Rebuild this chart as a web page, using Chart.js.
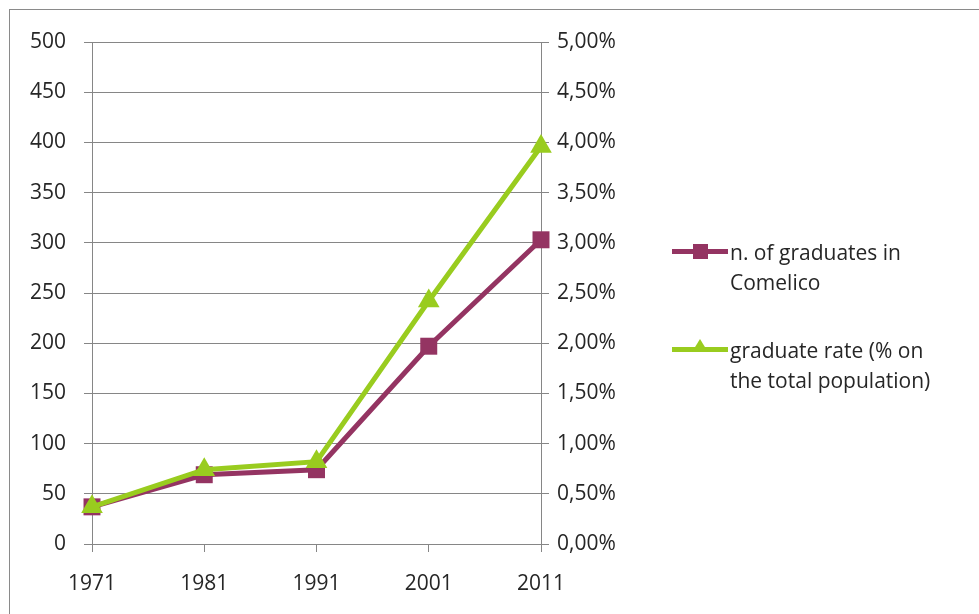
<!DOCTYPE html>
<html lang="en">
<head>
  <meta charset="UTF-8">
  <title>Graduates in Comelico</title>
  <script src="https://cdn.jsdelivr.net/npm/chart.js"></script>
  <style>
    body { margin: 0; background: #fff; }
    #wrap { position: relative; width: 979px; height: 614px; overflow: hidden; font-family: "Open Sans", sans-serif; }
    #frame { position: absolute; left: 9px; top: 9px; width: 1000px; height: 700px; border-top: 1px solid #8a8a8a; border-left: 1px solid #8a8a8a; }
    #gradChart { position: absolute; left: 0; top: 0; }
    .legend { position: absolute; left: 672px; font-size: 21px; line-height: 30px; color: #262626; }
    .legend .mark { position: absolute; left: 0; top: 12px; width: 56px; height: 5px; }
    .legend .txt { position: absolute; left: 58px; top: 0; white-space: nowrap; }
    .sq { position: absolute; left: 21px; top: -5px; width: 15px; height: 15px; }
    .tri { position: absolute; left: 20px; top: -8px; width: 0; height: 0; border-left: 8px solid transparent; border-right: 8px solid transparent; }
  </style>
</head>
<body>
  <div id="wrap">
    <div id="frame"></div>
    <canvas id="gradChart" width="979" height="614"></canvas>
    <!-- legend in html so the wrapped labels look like the original -->
    <div class="legend" id="leg1" style="top:237px">
      <div class="mark" style="background:#943462"><div class="sq" style="background:#943462"></div></div>
      <div class="txt">n. of graduates in<br>Comelico</div>
    </div>
    <div class="legend" id="leg2" style="top:335px">
      <div class="mark" style="background:#99cc1f"><div class="tri" style="border-bottom:13px solid #99cc1f"></div></div>
      <div class="txt">graduate rate (% on<br>the total population)</div>
    </div>
  </div>

  <script>
// census years
const years = ['1971', '1981', '1991', '2001', '2011'];
// number of graduates (left axis)
const graduates = [37, 69, 74, 197, 303];
// graduate rate in % (right axis)
const gradRate = [0.37, 0.74, 0.82, 2.42, 3.96];

const gridColor = '#868686';
const textColor = '#262626';
const tickFont = { family: 'Open Sans', size: 21 };

const ctx = document.getElementById('gradChart').getContext('2d');
const chart = new Chart(ctx, {
  type: 'line',
  data: {
    labels: years,
    datasets: [{
      label: 'n. of graduates in Comelico',
      data: graduates,
      yAxisID: 'y',
      borderColor: '#943462',
      backgroundColor: '#943462',
      borderWidth: 5,
      pointStyle: 'rect',
      pointRadius: 12,
      pointBorderWidth: 0,
      order: 2
    }, {
      label: 'graduate rate (% on the total population)',
      data: gradRate,
      yAxisID: 'y1',
      borderColor: '#99cc1f',
      backgroundColor: '#99cc1f',
      borderWidth: 5,
      pointStyle: 'triangle',
      pointRadius: 12.5,
      pointBorderWidth: 0,
      order: 1
    }]
  },
  options: {
    responsive: false,
    animation: false,
    layout: { padding: { left: 0, top: 42, right: 348, bottom: 0 } },
    plugins: { legend: { display: false }, tooltip: { enabled: false } },
    scales: {
      x: {
        offset: false,
        grid: { drawOnChartArea: false, tickLength: 8, color: gridColor },
        border: { color: gridColor },
        ticks: { color: textColor, font: tickFont, padding: 19, maxRotation: 0 },
        afterFit: (s) => { s.height = 70; }
      },
      y: {
        position: 'left',
        min: 0,
        max: 500,
        grid: { color: gridColor, tickLength: 8 },
        border: { color: gridColor },
        ticks: { stepSize: 50, color: textColor, font: tickFont, padding: 18 },
        afterFit: (s) => { s.width = 92; }
      },
      y1: {
        position: 'right',
        min: 0,
        max: 5,
        grid: { drawOnChartArea: false, color: gridColor, tickLength: 8 },
        border: { color: gridColor },
        ticks: {
          stepSize: 0.5,
          color: textColor,
          font: tickFont,
          padding: 8,
          callback: (v) => v.toFixed(2).replace('.', ',') + '%'
        },
        afterFit: (s) => { s.width = 90; }
      }
    }
  }
});
  </script>
</body>
</html>
